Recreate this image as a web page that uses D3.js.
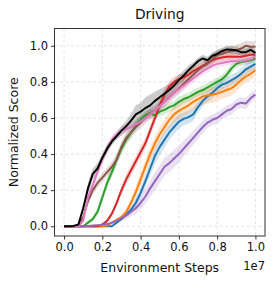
<!DOCTYPE html>
<html>
<head>
<meta charset="utf-8">
<script src="https://d3js.org/d3.v7.min.js"></script>
<style>
body { margin: 0; background: #fff; }
svg text { font-family: "DejaVu Sans", sans-serif; fill: #111; }
</style>
</head>
<body>
<div id="chart"></div>
<script>
// 환경 스텝 (x 1e7)
var steps = [0, 0.025, 0.05, 0.075, 0.1, 0.125, 0.15, 0.175, 0.2, 0.225, 0.25, 0.275, 0.3, 0.325, 0.35, 0.375,
  0.4, 0.425, 0.45, 0.475, 0.5, 0.525, 0.55, 0.575, 0.6, 0.625, 0.65, 0.675, 0.7, 0.725, 0.75, 0.775,
  0.8, 0.825, 0.85, 0.875, 0.9, 0.925, 0.95, 0.975, 1.0];

var xTicks = [0, 0.2, 0.4, 0.6, 0.8, 1.0];
var yTicks = [0, 0.2, 0.4, 0.6, 0.8, 1.0];

var blueY = [0,0,0,0,0,0,0,0,0,0,0,0.02,0.04,0.065,0.09,0.13,0.185,0.25,0.32,0.39,0.44,0.48,0.52,0.55,0.58,0.595,0.605,0.62,0.66,0.695,0.72,0.74,0.765,0.785,0.795,0.81,0.825,0.845,0.87,0.885,0.9];
var blueS = [0,0,0,0,0,0,0,0,0,0,0,0.005,0.01,0.015,0.02,0.025,0.03,0.035,0.04,0.045,0.045,0.045,0.04,0.04,0.04,0.035,0.035,0.035,0.03,0.03,0.03,0.03,0.03,0.03,0.03,0.03,0.03,0.03,0.03,0.03,0.03];

var orangeY = [0,0,0,0,0,0,0,0,0,0.005,0.02,0.035,0.05,0.08,0.13,0.19,0.26,0.33,0.4,0.46,0.51,0.55,0.59,0.62,0.64,0.655,0.67,0.69,0.705,0.72,0.725,0.73,0.735,0.745,0.755,0.765,0.785,0.81,0.83,0.845,0.865];
var orangeS = [0,0,0,0,0,0,0,0,0,0.005,0.01,0.01,0.015,0.02,0.025,0.03,0.035,0.04,0.04,0.04,0.04,0.04,0.045,0.045,0.045,0.045,0.045,0.045,0.045,0.045,0.045,0.045,0.04,0.04,0.04,0.04,0.04,0.035,0.035,0.035,0.035];

var greenY = [0,0,0,0,0,0.02,0.04,0.08,0.16,0.24,0.3,0.37,0.43,0.48,0.52,0.56,0.59,0.615,0.625,0.615,0.635,0.645,0.66,0.67,0.69,0.705,0.715,0.73,0.745,0.755,0.77,0.785,0.8,0.815,0.84,0.875,0.9,0.91,0.915,0.92,0.93];
var greenS = [0,0,0,0,0,0.01,0.015,0.02,0.025,0.03,0.03,0.03,0.03,0.03,0.03,0.03,0.025,0.025,0.025,0.025,0.025,0.025,0.025,0.025,0.025,0.025,0.025,0.025,0.025,0.025,0.025,0.025,0.025,0.025,0.025,0.025,0.02,0.02,0.02,0.02,0.02];

var redY = [0,0,0,0,0,0,0,0,0.01,0.03,0.07,0.13,0.2,0.26,0.31,0.36,0.41,0.46,0.53,0.6,0.67,0.73,0.775,0.8,0.815,0.825,0.84,0.86,0.875,0.89,0.905,0.92,0.93,0.935,0.94,0.94,0.94,0.94,0.945,0.95,0.95];
var redS = [0,0,0,0,0,0,0,0,0.005,0.01,0.015,0.02,0.025,0.03,0.03,0.03,0.03,0.03,0.03,0.03,0.03,0.03,0.03,0.03,0.025,0.025,0.025,0.025,0.02,0.02,0.02,0.02,0.02,0.02,0.02,0.02,0.02,0.02,0.02,0.02,0.02];

var purpleY = [0,0,0,0,0,0.002,0.004,0.006,0.008,0.012,0.02,0.03,0.045,0.06,0.08,0.1,0.13,0.165,0.21,0.25,0.29,0.33,0.35,0.375,0.4,0.43,0.46,0.49,0.52,0.55,0.575,0.59,0.6,0.62,0.64,0.65,0.675,0.685,0.68,0.71,0.73];
var purpleS = [0,0,0,0,0,0,0,0,0,0.005,0.005,0.01,0.015,0.02,0.025,0.03,0.035,0.04,0.045,0.05,0.05,0.05,0.05,0.05,0.045,0.045,0.04,0.04,0.035,0.035,0.03,0.03,0.03,0.03,0.03,0.03,0.03,0.03,0.03,0.03,0.025];

var brownY = [0,0,0,0.005,0.05,0.14,0.2,0.24,0.27,0.3,0.33,0.37,0.44,0.49,0.52,0.55,0.575,0.6,0.625,0.64,0.665,0.69,0.715,0.74,0.765,0.79,0.815,0.84,0.865,0.885,0.9,0.925,0.95,0.955,0.965,0.97,0.975,0.985,1.0,0.995,0.995];
var brownS = [0,0,0,0.005,0.015,0.02,0.025,0.025,0.025,0.025,0.03,0.03,0.03,0.03,0.03,0.03,0.03,0.03,0.03,0.03,0.03,0.03,0.03,0.03,0.03,0.03,0.03,0.03,0.03,0.03,0.03,0.03,0.03,0.03,0.03,0.03,0.03,0.03,0.03,0.03,0.03];

var pinkY = [0,0,0,0,0.03,0.16,0.23,0.3,0.37,0.43,0.48,0.51,0.53,0.54,0.55,0.565,0.58,0.6,0.62,0.64,0.665,0.69,0.715,0.74,0.76,0.78,0.8,0.82,0.84,0.86,0.875,0.89,0.9,0.905,0.91,0.915,0.915,0.915,0.92,0.925,0.94];
var pinkS = [0,0,0,0,0.01,0.02,0.025,0.025,0.025,0.025,0.025,0.025,0.025,0.025,0.025,0.025,0.025,0.025,0.025,0.025,0.025,0.025,0.025,0.025,0.025,0.025,0.025,0.025,0.025,0.025,0.025,0.02,0.02,0.02,0.02,0.02,0.02,0.02,0.02,0.02,0.02];

var blackY = [0,0,0.002,0.01,0.1,0.21,0.29,0.32,0.38,0.43,0.47,0.5,0.53,0.555,0.585,0.62,0.635,0.655,0.67,0.695,0.715,0.735,0.755,0.78,0.81,0.835,0.865,0.89,0.915,0.93,0.92,0.945,0.955,0.97,0.98,0.978,0.975,0.965,0.965,0.978,0.96];
var blackS = [0,0,0,0.005,0.02,0.03,0.03,0.03,0.025,0.025,0.02,0.02,0.025,0.03,0.04,0.05,0.05,0.06,0.06,0.05,0.045,0.04,0.035,0.03,0.03,0.03,0.025,0.02,0.02,0.02,0.02,0.02,0.02,0.02,0.02,0.02,0.02,0.02,0.02,0.02,0.02];

var series = [
  {name:"blue", color:"#1f77b4", y:blueY, s:blueS},
  {name:"orange", color:"#ff7f0e", y:orangeY, s:orangeS},
  {name:"green", color:"#2ca02c", y:greenY, s:greenS},
  {name:"red", color:"#d62728", y:redY, s:redS},
  {name:"purple", color:"#9467bd", y:purpleY, s:purpleS},
  {name:"brown", color:"#8c564b", y:brownY, s:brownS},
  {name:"pink", color:"#e377c2", y:pinkY, s:pinkS},
  {name:"black", color:"#000000", y:blackY, s:blackS}
];

var W = 274, H = 283;
var margin = {top: 28.5, right: 9, bottom: 47, left: 54.5};
var width = W - margin.left - margin.right,
    height = H - margin.top - margin.bottom;

var x = d3.scaleLinear().domain([-0.05, 1.05]).range([0, width]);
var y = d3.scaleLinear().domain([-0.054, 1.096]).range([height, 0]);

var svg = d3.select("#chart").append("svg")
  .attr("width", W).attr("height", H);

var chart = svg.append("g")
  .attr("transform", "translate(" + margin.left + "," + margin.top + ")");

chart.append("clipPath").attr("id", "clip")
  .append("rect").attr("width", width).attr("height", height);

// 그리드
chart.append("g").selectAll("line").data(xTicks).enter().append("line")
  .attr("x1", function(d){ return x(d); }).attr("x2", function(d){ return x(d); })
  .attr("y1", 0).attr("y2", height)
  .attr("stroke", "#dcdcdc").attr("stroke-width", 0.8).attr("stroke-dasharray", "3,2.5");
chart.append("g").selectAll("line").data(yTicks).enter().append("line")
  .attr("y1", function(d){ return y(d); }).attr("y2", function(d){ return y(d); })
  .attr("x1", 0).attr("x2", width)
  .attr("stroke", "#dcdcdc").attr("stroke-width", 0.8).attr("stroke-dasharray", "3,2.5");

var area = d3.area()
  .x(function(d){ return x(d[0]); })
  .y0(function(d){ return y(d[1] - d[2]); })
  .y1(function(d){ return y(d[1] + d[2]); });
var line = d3.line()
  .x(function(d){ return x(d[0]); })
  .y(function(d){ return y(d[1]); });

var plot = chart.append("g").attr("clip-path", "url(#clip)");

series.forEach(function(sr){
  var pts = steps.map(function(st, i){ return [st, sr.y[i], sr.s[i]]; });
  plot.append("path").datum(pts)
    .attr("d", area)
    .attr("fill", sr.color).attr("fill-opacity", 0.2).attr("stroke", "none");
});
series.forEach(function(sr){
  var pts = steps.map(function(st, i){ return [st, sr.y[i], sr.s[i]]; });
  plot.append("path").datum(pts)
    .attr("d", line)
    .attr("fill", "none").attr("stroke", sr.color)
    .attr("stroke-width", 2).attr("stroke-linejoin", "round");
});

// 축
var xAxis = chart.append("g").attr("transform", "translate(0," + height + ")")
  .call(d3.axisBottom(x).tickValues(xTicks).tickFormat(d3.format(".1f")).tickSize(3.5).tickPadding(3));
var yAxis = chart.append("g")
  .call(d3.axisLeft(y).tickValues(yTicks).tickFormat(d3.format(".1f")).tickSize(3.5).tickPadding(3));
[xAxis, yAxis].forEach(function(a){
  a.select(".domain").remove();
  a.selectAll("line").attr("stroke", "#333");
  a.selectAll("text").style("font-size", "11.5px").style("font-family", "DejaVu Sans").attr("fill", "#111");
});

chart.append("rect").attr("width", width).attr("height", height)
  .attr("fill", "none").attr("stroke", "#333").attr("stroke-width", 1);

svg.append("text").attr("x", margin.left + width/2).attr("y", 19)
  .attr("text-anchor", "middle").style("font-size", "13.8px").text("Driving");
svg.append("text").attr("x", margin.left + width/2).attr("y", 271.5)
  .attr("text-anchor", "middle").style("font-size", "12.5px").text("Environment Steps");
svg.append("text").attr("x", W - margin.right).attr("y", 270)
  .attr("text-anchor", "end").style("font-size", "11.5px").text("1e7");
svg.append("text").attr("transform", "translate(18," + (margin.top + height/2) + ") rotate(-90)")
  .attr("text-anchor", "middle").style("font-size", "12.5px").text("Normalized Score");
</script>
</body>
</html>
